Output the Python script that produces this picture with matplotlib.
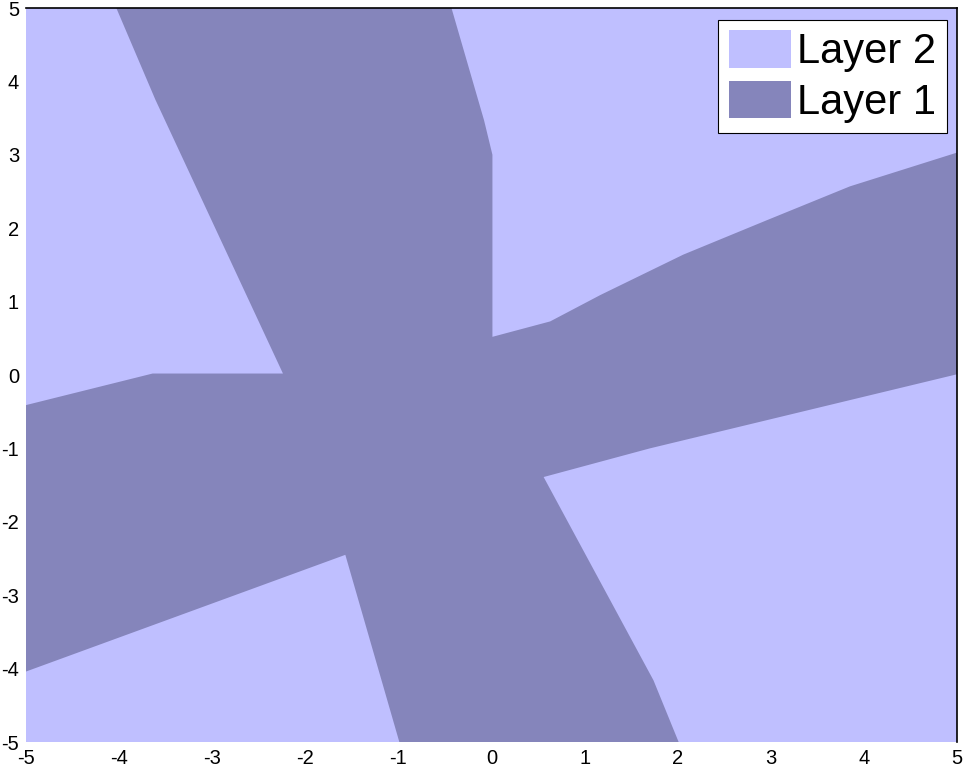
import matplotlib
matplotlib.use("Agg")
import matplotlib.pyplot as plt
from matplotlib.patches import Patch

plt.rcParams['font.family'] = ['Liberation Sans', 'DejaVu Sans']

# plot extent
x_range = [-5, 5]
y_range = [-5, 5]
ticks = [-5, -4, -3, -2, -1, 0, 1, 2, 3, 4, 5]

# outline of the Layer 1 region, clockwise from top-left
layer1_x = [-4.03, -3.61, -2.24, -3.64, -5.00, -5.00, -1.57, -0.99, 2.01, 1.74,
            0.56, 1.70, 5.00, 5.00, 3.85, 2.96, 2.06, 1.17, 0.63, 0.01,
            0.01, -0.08, -0.43]
layer1_y = [5.00, 3.75, 0.02, 0.02, -0.41, -4.04, -2.45, -5.00, -5.00, -4.16,
            -1.39, -1.00, 0.01, 3.03, 2.57, 2.11, 1.64, 1.09, 0.73, 0.52,
            3.00, 3.47, 5.00]

labels = ['Layer 2', 'Layer 1']
colors = ['#BFBFFF', '#8585BB']

fig = plt.figure(figsize=(9.63, 7.69), dpi=100)
ax = fig.add_axes([26 / 963, 1 - 742 / 769, 931 / 963, 734 / 769])

# Layer 2 covers the whole plane, Layer 1 drawn on top
ax.fill([x_range[0], x_range[1], x_range[1], x_range[0]],
        [y_range[0], y_range[0], y_range[1], y_range[1]],
        color=colors[0], lw=0, zorder=1)
ax.fill(layer1_x, layer1_y, color=colors[1], lw=0, zorder=2)

ax.set_xlim(x_range)
ax.set_ylim(y_range)
ax.set_xticks(ticks)
ax.set_yticks(ticks)
ax.set_xticklabels([str(t) for t in ticks])
ax.set_yticklabels([str(t) for t in ticks])
ax.tick_params(direction='in', length=0, labelsize=14.5, pad=5)

ax.spines['left'].set_visible(False)
ax.spines['bottom'].set_visible(False)
ax.spines['top'].set_linewidth(1.2)
ax.spines['right'].set_linewidth(1.2)
ax.spines['top'].set_zorder(5)
ax.spines['right'].set_zorder(5)

handles = [Patch(facecolor=c, edgecolor='none') for c in colors]
leg = ax.legend(handles, labels, loc='upper right',
                bbox_to_anchor=(947 / 963, 1 - 20 / 769),
                bbox_transform=fig.transFigure, borderaxespad=0,
                fontsize=30, fancybox=False, framealpha=1,
                edgecolor='black', handlelength=1.5, handleheight=1.0,
                handletextpad=0.15, labelspacing=0.2, borderpad=0.25)
leg.get_frame().set_linewidth(0.8)
leg.set_zorder(10)

fig.savefig('out.png', dpi=100)
